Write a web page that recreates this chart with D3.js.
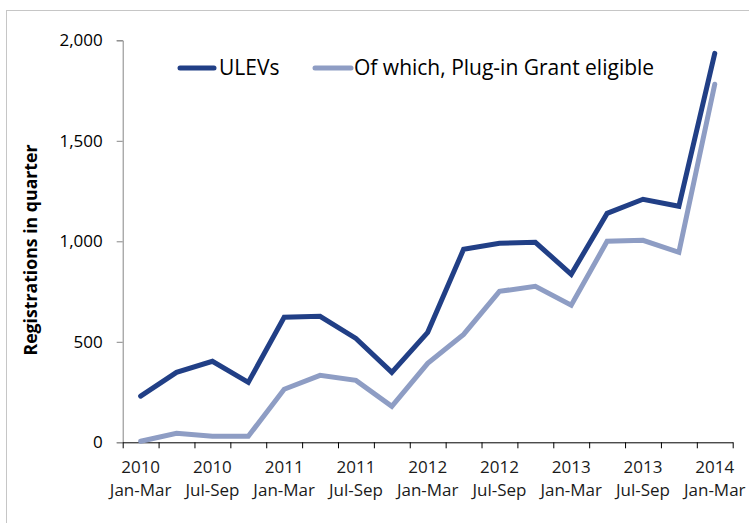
<!DOCTYPE html>
<html>
<head>
<meta charset="utf-8">
<script src="https://cdn.jsdelivr.net/npm/d3@7"></script>
<style>
  html, body { margin: 0; padding: 0; background: #fff; }
  svg { display: block; font-family: "Open Sans", "Noto Sans", "Liberation Sans", sans-serif; }
</style>
</head>
<body>
<svg id="chart" width="749" height="523"></svg>
<script>
const quarters = ["2010 Q1","2010 Q2","2010 Q3","2010 Q4",
                  "2011 Q1","2011 Q2","2011 Q3","2011 Q4",
                  "2012 Q1","2012 Q2","2012 Q3","2012 Q4",
                  "2013 Q1","2013 Q2","2013 Q3","2013 Q4",
                  "2014 Q1"];
const ulevs      = [230, 348, 403, 298, 622, 627, 517, 348, 547, 960, 990, 995, 836, 1139, 1209, 1174, 1935];
const plugIn     = [5, 45, 30, 30, 264, 333, 308, 179, 393, 537, 751, 776, 682, 1000, 1005, 945, 1781];
const yTicks     = [0, 500, 1000, 1500, 2000];
const xLabelYears  = ["2010","2010","2011","2011","2012","2012","2013","2013","2014"];
const xLabelMonths = ["Jan-Mar","Jul-Sep","Jan-Mar","Jul-Sep","Jan-Mar","Jul-Sep","Jan-Mar","Jul-Sep","Jan-Mar"];
const seriesNames  = ["ULEVs", "Of which, Plug-in Grant eligible"];

const svg = d3.select("#chart");
const W = 749, H = 523;
const m = {left: 122.7, right: 16.3, top: 40.3, bottom: 80.7};
const iw = W - m.left - m.right, ih = H - m.top - m.bottom;

// outer border
svg.append("rect").attr("x", 6.5).attr("y", 10.5).attr("width", 800).attr("height", 600)
  .attr("fill", "none").attr("stroke", "#c6c6c6").attr("stroke-width", 1);

const g = svg.append("g").attr("transform", `translate(${m.left},${m.top})`);

const x = d3.scaleBand().domain(quarters).range([0, iw]).padding(0);
const xb = d3.scaleLinear().domain([0, quarters.length]).range([0, iw]);
const y = d3.scaleLinear().domain([0, 2000]).range([ih, 0]);

// y axis
const yAxis = g.append("g").call(d3.axisLeft(y).tickValues(yTicks).tickSize(6).tickPadding(14)
  .tickFormat(d3.format(",")));
yAxis.select(".domain").attr("stroke", "#868686");
yAxis.selectAll(".tick line").attr("stroke", "#868686");
yAxis.selectAll("text").attr("font-size", 17).attr("fill", "#000").attr("font-family", "Open Sans");

// x axis with ticks at band boundaries
const xAxis = g.append("g").attr("transform", `translate(0,${ih})`)
  .call(d3.axisBottom(xb).tickValues(d3.range(0, quarters.length + 1)).tickSize(6).tickFormat(""));
xAxis.select(".domain").attr("stroke", "#000").attr("d", `M0.5,0.5H${iw + 0.5}`);
xAxis.selectAll(".tick line").attr("stroke", "#000");

// x labels every other quarter
const labelIdx = d3.range(0, quarters.length, 2);
const lbl = g.append("g").selectAll("text").data(labelIdx).join("text")
  .attr("x", (d) => x(quarters[d]) + x.bandwidth() / 2)
  .attr("text-anchor", "middle").attr("font-size", 17).attr("fill", "#1a1a1a");
lbl.append("tspan").attr("x", (d) => x(quarters[d]) + x.bandwidth() / 2).attr("y", ih + 31)
  .text((d, i) => xLabelYears[i]);
lbl.append("tspan").attr("x", (d) => x(quarters[d]) + x.bandwidth() / 2).attr("y", ih + 54)
  .text((d, i) => xLabelMonths[i]);

// y axis title
svg.append("text").attr("transform", `translate(37,250) rotate(-90)`)
  .attr("text-anchor", "middle").attr("font-size", 17.7).attr("font-weight", "bold")
  .attr("fill", "#000").text("Registrations in quarter");

const colors = ["#213f86", "#8e9dc4"];
const line = d3.line().x((d, i) => x(quarters[i]) + x.bandwidth() / 2).y((d) => y(d));

[plugIn, ulevs].forEach((s, k) => {
  g.append("path").datum(s).attr("d", line).attr("fill", "none")
    .attr("stroke", k === 0 ? colors[1] : colors[0]).attr("stroke-width", 5)
    .attr("stroke-linejoin", "miter").attr("stroke-linecap", "round");
});

// legend
const legend = svg.append("g");
const legItems = [{x1: 180, x2: 214, tx: 219}, {x1: 315, x2: 351, tx: 354}];
legItems.forEach((it, i) => {
  legend.append("line").attr("x1", it.x1).attr("x2", it.x2).attr("y1", 68).attr("y2", 68)
    .attr("stroke", colors[i]).attr("stroke-width", 5).attr("stroke-linecap", "round");
  legend.append("text").attr("x", it.tx).attr("y", 75).attr("font-size", 21)
    .attr("fill", "#000").text(seriesNames[i]);
});
</script>
</body>
</html>
